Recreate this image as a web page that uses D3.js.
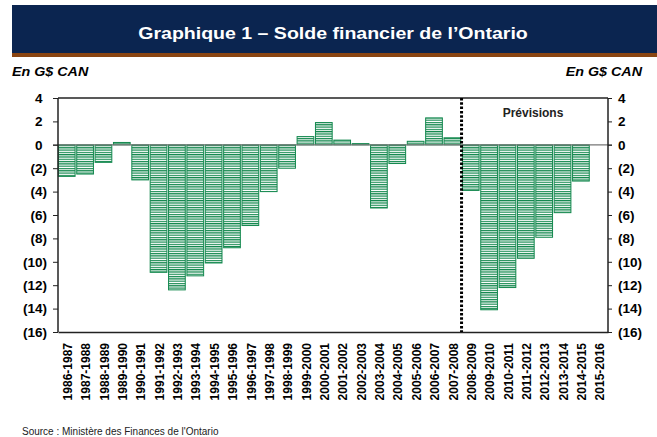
<!DOCTYPE html>
<html>
<head>
<meta charset="utf-8">
<title>Solde financier de l'Ontario</title>
<script src="https://d3js.org/d3.v7.min.js"></script>
<style>
    body { margin: 0; background: #fff; }
    svg text { font-family: "Liberation Sans", Arial, sans-serif; }
</style>
</head>
<body>
<script>
    // Data (G$ CAN)
    var years = ["1986-1987", "1987-1988", "1988-1989", "1989-1990", "1990-1991", "1991-1992",
        "1992-1993", "1993-1994", "1994-1995", "1995-1996", "1996-1997", "1997-1998",
        "1998-1999", "1999-2000", "2000-2001", "2001-2002", "2002-2003", "2003-2004",
        "2004-2005", "2005-2006", "2006-2007", "2007-2008", "2008-2009", "2009-2010",
        "2010-2011", "2011-2012", "2012-2013", "2013-2014", "2014-2015", "2015-2016"];
    var balance = [-2.7, -2.5, -1.5, 0.2, -3.0, -10.9,
        -12.4, -11.2, -10.1, -8.8, -6.9, -4.0,
        -2.0, 0.7, 1.9, 0.4, 0.1, -5.4,
        -1.6, 0.3, 2.3, 0.6, -3.9, -14.1,
        -12.2, -9.7, -7.9, -5.8, -3.1, null];
    var yTicks = [4, 2, 0, -2, -4, -6, -8, -10, -12, -14, -16];
    var forecastStart = "2008-2009";

    var W = 657, H = 437;
    var margin = { left: 58, right: 49, top: 98, bottom: 105 };
    var green = "#13884e";

    var svg = d3.select("body").append("svg")
        .attr("width", W)
        .attr("height", H);

    // title banner
    svg.append("rect").attr("x", 12).attr("y", 5).attr("width", W - 12).attr("height", 48).attr("fill", "#0b2550");
    svg.append("rect").attr("x", 12).attr("y", 53).attr("width", W - 12).attr("height", 4).attr("fill", "#8a4512");
    svg.append("g")
        .attr("transform", "translate(333,39) scale(1.15,1)")
        .append("text")
        .attr("text-anchor", "middle")
        .attr("fill", "#fff")
        .style("font-size", "17px").style("font-weight", "bold")
        .text("Graphique 1 \u2013 Solde financier de l\u2019Ontario");

    svg.append("g").attr("transform", "translate(12,76) scale(1.1,1)")
        .append("text")
        .style("font-size", "13px").style("font-weight", "bold").style("font-style", "italic")
        .text("En G$ CAN");
    svg.append("g").attr("transform", "translate(642,76) scale(1.1,1)")
        .append("text").attr("text-anchor", "end")
        .style("font-size", "13px").style("font-weight", "bold").style("font-style", "italic")
        .text("En G$ CAN");

    // hatch pattern
    var pat = svg.append("defs").append("pattern")
        .attr("id", "hatch")
        .attr("patternUnits", "userSpaceOnUse")
        .attr("width", 20).attr("height", 2.3);
    pat.append("rect").attr("width", 20).attr("height", 2.3).attr("fill", "#fff");
    pat.append("rect").attr("width", 20).attr("height", 1.2).attr("fill", green);

    var x = d3.scaleBand()
        .domain(years)
        .range([margin.left, W - margin.right])
        .paddingInner(0.09)
        .paddingOuter(0.02);

    var y = d3.scaleLinear()
        .domain([-16, 4])
        .range([H - margin.bottom, margin.top]);

    var fmt = function(d) { return d < 0 ? "(" + (-d) + ")" : d; };

    // bars
    svg.selectAll(".bar")
        .data(years.map(function(d, i) { return { year: d, v: balance[i] }; })
            .filter(function(d) { return d.v !== null; }))
        .enter().append("rect")
        .attr("class", "bar")
        .attr("x", function(d) { return x(d.year); })
        .attr("width", x.bandwidth())
        .attr("y", function(d) { return y(Math.max(0, d.v)); })
        .attr("height", function(d) { return Math.abs(y(d.v) - y(0)); })
        .attr("fill", "url(#hatch)")
        .attr("stroke", green)
        .attr("stroke-width", 1);

    // zero line
    svg.append("line")
        .attr("x1", margin.left - 5).attr("x2", W - margin.right + 4)
        .attr("y1", y(0)).attr("y2", y(0))
        .attr("stroke", "#777").attr("stroke-width", 1.3);

    // frame
    svg.append("line")
        .attr("x1", margin.left).attr("x2", W - margin.right)
        .attr("y1", margin.top).attr("y2", margin.top)
        .attr("stroke", "#222").attr("stroke-width", 1.3);

    var left = svg.append("g")
        .attr("transform", "translate(" + margin.left + ",0)")
        .call(d3.axisLeft(y).tickValues(yTicks).tickFormat(fmt).tickSize(5).tickPadding(6));
    var right = svg.append("g")
        .attr("transform", "translate(" + (W - margin.right) + ",0)")
        .call(d3.axisRight(y).tickValues(yTicks).tickFormat(fmt).tickSize(4).tickPadding(6));
    var bottom = svg.append("g")
        .attr("transform", "translate(0," + (H - margin.bottom) + ")")
        .call(d3.axisBottom(x).tickSize(0).tickSizeOuter(0));

    [left, right, bottom].forEach(function(g) {
        g.select(".domain").attr("stroke", "#222").attr("stroke-width", 1.5);
        g.selectAll(".tick line").attr("stroke", "#222");
        g.selectAll("text")
            .attr("fill", "#000")
            .style("font-size", "13.5px")
            .style("font-weight", "bold")
            .style("font-family", "'Liberation Sans', Arial, sans-serif");
    });
    left.select(".domain").attr("d", "M0," + y(-16) + "V" + y(4));
    right.select(".domain").attr("d", "M0," + y(-16) + "V" + y(4));
    // positive numbers leave room for the closing parenthesis, as in the source
    left.selectAll(".tick text").attr("dx", function(d) { return d >= 0 ? -4.5 : 0; });

    bottom.selectAll("text")
        .style("font-size", "12px")
        .attr("transform", "rotate(-90)")
        .attr("text-anchor", "end")
        .attr("x", -11)
        .attr("y", 1)
        .attr("dy", "0.35em");

    // forecast separator
    var sx = x(forecastStart) - x.step() * x.paddingInner() / 2;
    svg.append("line")
        .attr("x1", sx).attr("x2", sx)
        .attr("y1", margin.top).attr("y2", H - margin.bottom)
        .attr("stroke", "#000")
        .attr("stroke-width", 3)
        .attr("stroke-dasharray", "2.5,1.8");

    svg.append("text")
        .attr("x", 533).attr("y", 117)
        .attr("text-anchor", "middle")
        .style("font-size", "12px").style("font-weight", "bold")
        .attr("fill", "#222")
        .text("Prévisions");

    svg.append("text")
        .attr("x", 22).attr("y", 435)
        .style("font-size", "10px")
        .attr("fill", "#222")
        .text("Source : Ministère des Finances de l'Ontario");
</script>
</body>
</html>
